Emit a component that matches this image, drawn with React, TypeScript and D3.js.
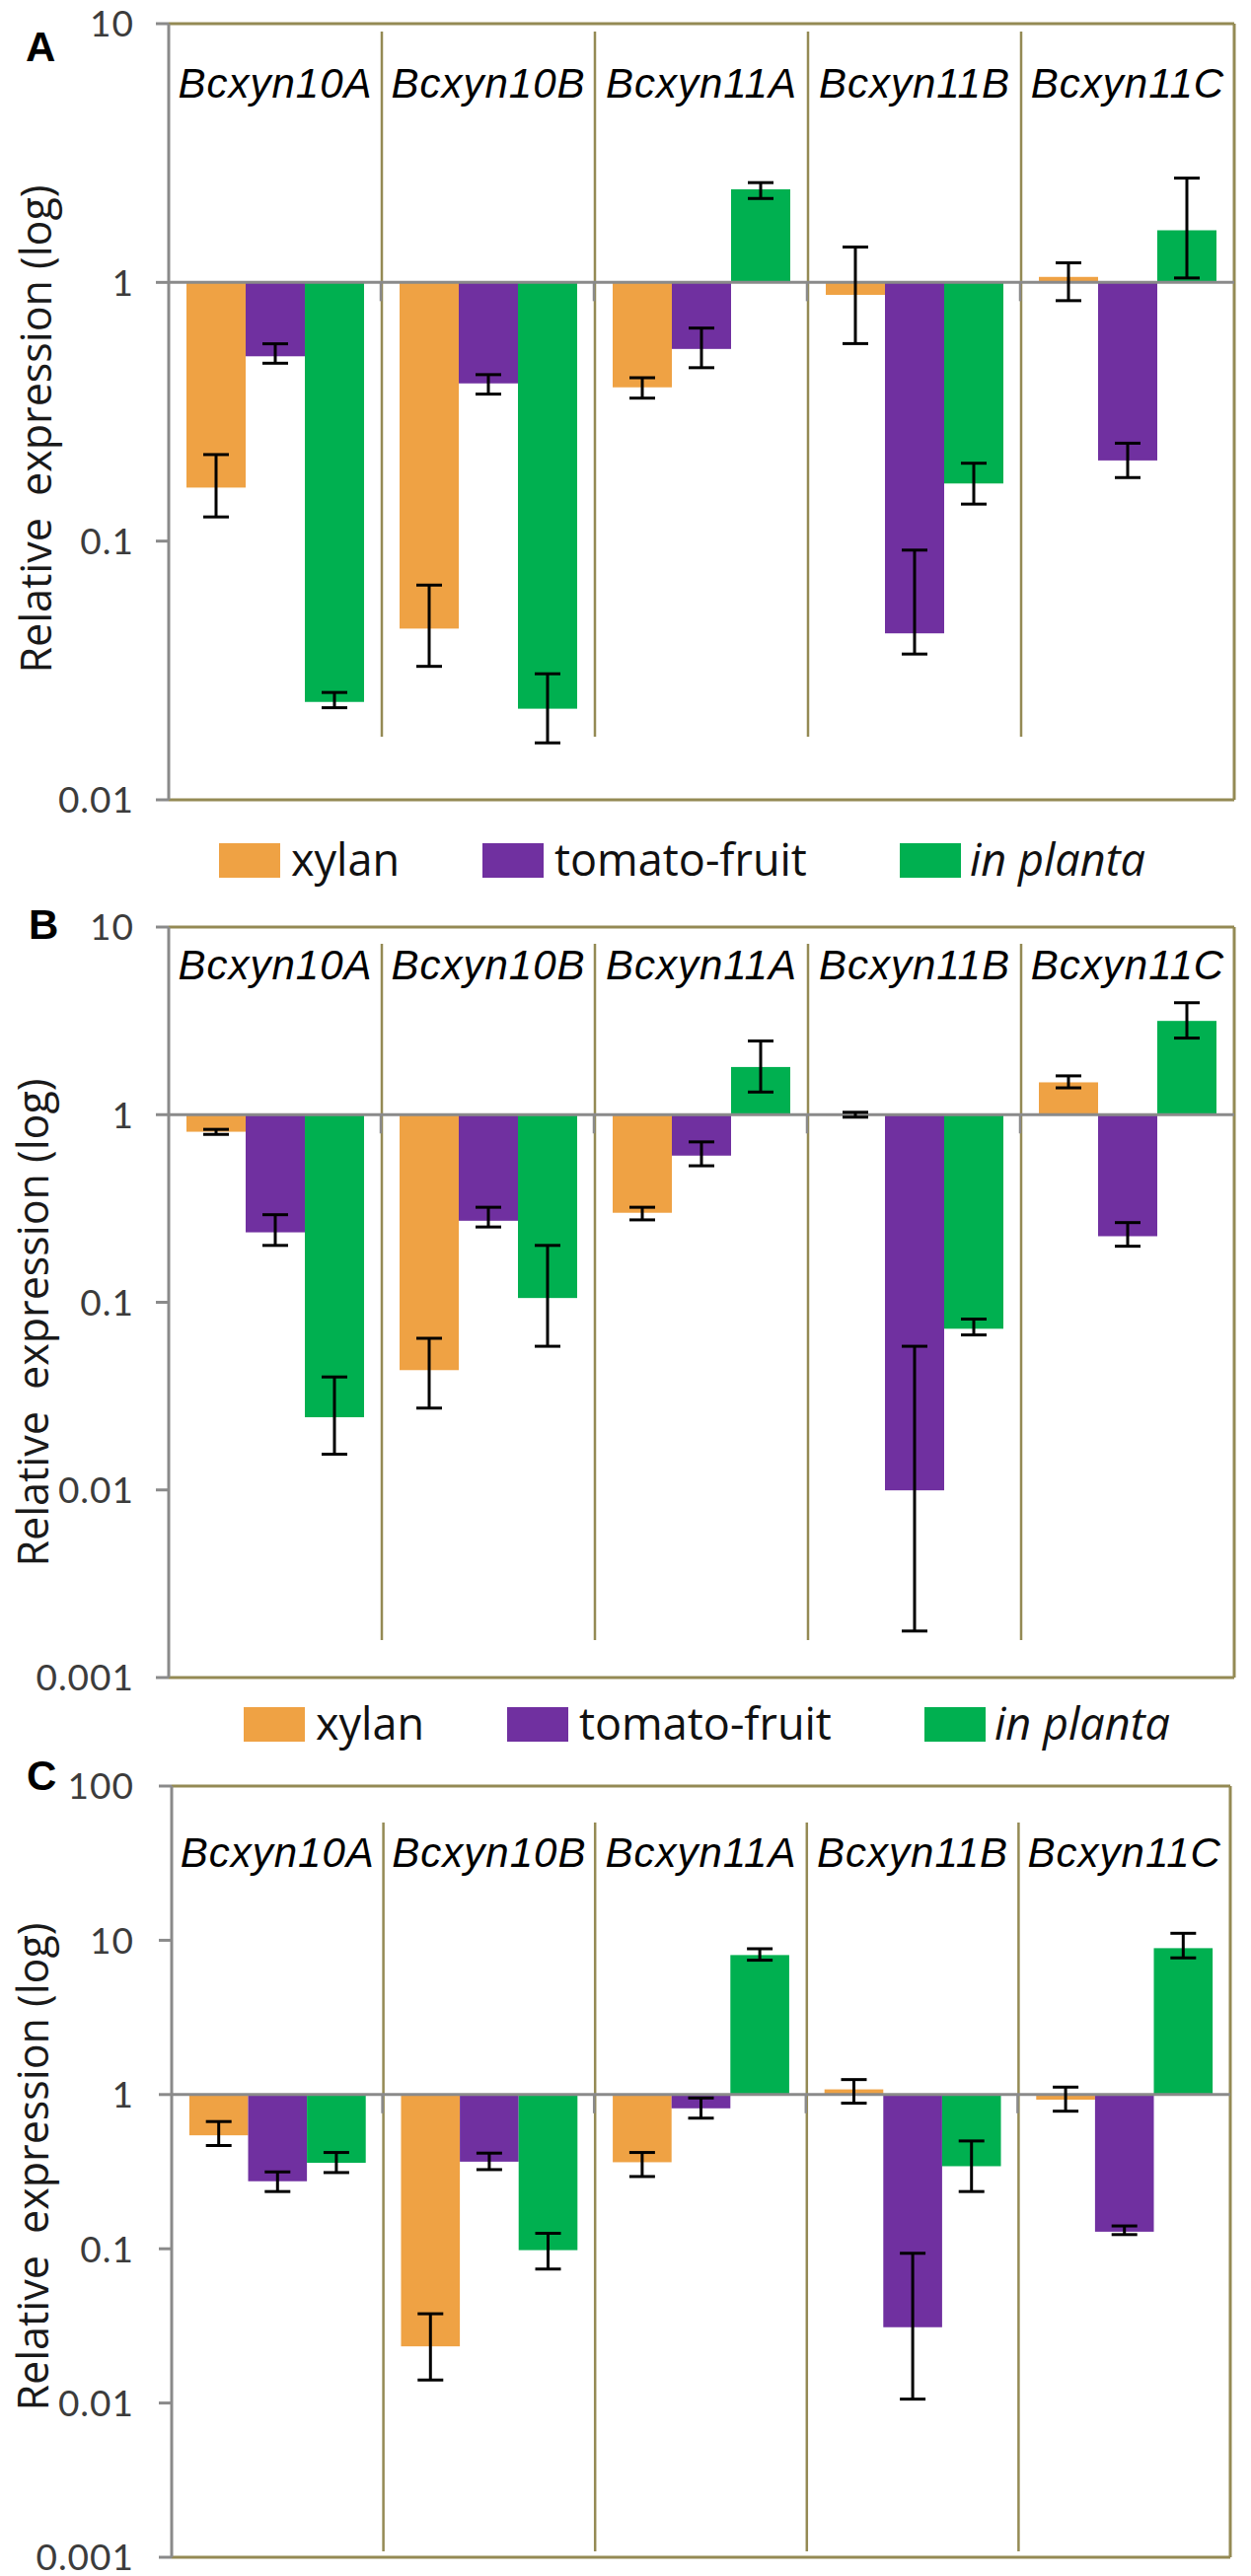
import React from "react";
import * as d3 from "d3";

const categories = ["Bcxyn10A", "Bcxyn10B", "Bcxyn11A", "Bcxyn11B", "Bcxyn11C"];
const seriesNames = ["xylan", "tomato-fruit", "in planta"];
const seriesColors = ["#EFA244", "#7030A0", "#00B050"];

// Panel A
const xylanA = [0.161, 0.0459, 0.393, 0.895, 1.05];
const xylanAlo = [0.124, 0.0328, 0.357, 0.58, 0.85];
const xylanAhi = [0.216, 0.0676, 0.428, 1.37, 1.19];
const tomatoA = [0.518, 0.407, 0.553, 0.044, 0.205];
const tomatoAlo = [0.487, 0.37, 0.468, 0.0366, 0.176];
const tomatoAhi = [0.579, 0.44, 0.666, 0.0923, 0.239];
const plantaA = [0.0239, 0.0225, 2.29, 0.167, 1.59];
const plantaAlo = [0.0227, 0.0166, 2.11, 0.139, 1.04];
const plantaAhi = [0.026, 0.0307, 2.43, 0.2, 2.53];

// Panel B
const xylanB = [0.811, 0.0435, 0.3, 0.99, 1.487];
const xylanBlo = [0.785, 0.0273, 0.275, 0.97, 1.39];
const xylanBhi = [0.835, 0.0643, 0.321, 1.03, 1.61];
const tomatoB = [0.236, 0.272, 0.605, 0.00995, 0.225];
const tomatoBlo = [0.201, 0.252, 0.534, 0.00177, 0.199];
const tomatoBhi = [0.293, 0.321, 0.716, 0.0583, 0.266];
const plantaB = [0.0244, 0.1054, 1.795, 0.0723, 3.16];
const plantaBlo = [0.0155, 0.0583, 1.32, 0.067, 2.56];
const plantaBhi = [0.04, 0.201, 2.47, 0.0814, 3.95];

// Panel C
const xylanC = [0.544, 0.0233, 0.364, 1.08, 0.926];
const xylanClo = [0.467, 0.0141, 0.294, 0.879, 0.78];
const xylanChi = [0.668, 0.0379, 0.421, 1.25, 1.117];
const tomatoC = [0.274, 0.367, 0.814, 0.031, 0.129];
const tomatoClo = [0.235, 0.326, 0.703, 0.0106, 0.1236];
const tomatoChi = [0.315, 0.417, 0.95, 0.0935, 0.1406];
const plantaC = [0.361, 0.098, 8.02, 0.343, 8.89];
const plantaClo = [0.312, 0.0739, 7.43, 0.235, 7.69];
const plantaChi = [0.421, 0.126, 8.81, 0.5, 11.1];

const ticksA = [10, 1, 0.1, 0.01];
const ticksB = [10, 1, 0.1, 0.01, 0.001];
const ticksC = [100, 10, 1, 0.1, 0.01, 0.001];
const domainA = [0.01, 10];
const domainB = [0.001, 10];
const domainC = [0.001, 100];

const yTitle = "Relative  expression (log)";

const OLIVE = "#948A54";
const GRAY = "#8A8A8A";

const panels = [
  {
    letter: "A", letterX: 26, letterY: 62,
    left: 171, right: 1251, top: 24, bottom: 811,
    domain: domainA, ticks: ticksA,
    values: [xylanA, tomatoA, plantaA],
    lo: [xylanAlo, tomatoAlo, plantaAlo],
    hi: [xylanAhi, tomatoAhi, plantaAhi],
    labelY: 99, divTop: 32, divBottom: 747,
    titleX: 52, titleY: 435,
  },
  {
    letter: "B", letterX: 29, letterY: 952,
    left: 171, right: 1251, top: 940, bottom: 1701,
    domain: domainB, ticks: ticksB,
    values: [xylanB, tomatoB, plantaB],
    lo: [xylanBlo, tomatoBlo, plantaBlo],
    hi: [xylanBhi, tomatoBhi, plantaBhi],
    labelY: 993, divTop: 957, divBottom: 1663,
    titleX: 49, titleY: 1341,
  },
  {
    letter: "C", letterX: 27, letterY: 1815,
    left: 174, right: 1247, top: 1811, bottom: 2593,
    domain: domainC, ticks: ticksC,
    values: [xylanC, tomatoC, plantaC],
    lo: [xylanClo, tomatoClo, plantaClo],
    hi: [xylanChi, tomatoChi, plantaChi],
    labelY: 1893, divTop: 1848, divBottom: 2587,
    titleX: 49, titleY: 2197,
  },
];

const legends = [
  { swatchX: [222, 489, 912], y: 855 },
  { swatchX: [247, 514, 937], y: 1731 },
];

function Panel({ cfg }: { cfg: any }) {
  const y = d3.scaleLog().domain(cfg.domain).range([cfg.bottom, cfg.top]);
  const x0 = d3.scaleBand<string>().domain(categories).range([cfg.left, cfg.right]).paddingInner(0).paddingOuter(0);
  const x1 = d3.scaleBand<string>().domain(seriesNames).range([0, x0.bandwidth()]).paddingInner(0).paddingOuter(0.3);
  const y1 = y(1);
  const bw = x1.bandwidth();
  const cap = 13;

  return (
    <g>
      <text x={cfg.letterX} y={cfg.letterY} style={{ fontFamily: "'Liberation Sans', Arial, sans-serif" }} fontWeight="bold" fontSize={42} fill="#000">
        {cfg.letter}
      </text>
      <text
        transform={`translate(${cfg.titleX},${cfg.titleY}) rotate(-90)`}
        textAnchor="middle"
        style={{ fontFamily: "'Open Sans', sans-serif", whiteSpace: "pre" }}
        fontSize={43}
        fill="#1a1a1a"
      >
        {yTitle}
      </text>
      {/* bars */}
      {seriesNames.map((s, j) =>
        categories.map((c, i) => {
          const v = cfg.values[j][i];
          const yv = y(v);
          return (
            <rect
              key={`b-${s}-${c}`}
              x={(x0(c) as number) + (x1(s) as number)}
              y={Math.min(yv, y1)}
              width={bw}
              height={Math.abs(yv - y1)}
              fill={seriesColors[j]}
            />
          );
        })
      )}
      {/* frame */}
      <line x1={cfg.left} x2={cfg.right} y1={cfg.top} y2={cfg.top} stroke={OLIVE} strokeWidth={3} />
      <line x1={cfg.left} x2={cfg.right} y1={cfg.bottom} y2={cfg.bottom} stroke={OLIVE} strokeWidth={3} />
      <line x1={cfg.right} x2={cfg.right} y1={cfg.top} y2={cfg.bottom} stroke={OLIVE} strokeWidth={3} />
      {categories.slice(1).map((c) => (
        <line key={`d-${c}`} x1={x0(c) as number} x2={x0(c) as number} y1={cfg.divTop} y2={cfg.divBottom} stroke={OLIVE} strokeWidth={2.5} />
      ))}
      {/* baseline (category axis at 1) */}
      <line x1={cfg.left} x2={cfg.right} y1={y1} y2={y1} stroke={GRAY} strokeWidth={3} />
      {categories.slice(1).map((c) => (
        <line key={`t-${c}`} x1={(x0(c) as number) - 1} x2={(x0(c) as number) - 1} y1={y1} y2={y1 + 19} stroke={GRAY} strokeWidth={2.5} />
      ))}
      {/* value axis */}
      <line x1={cfg.left} x2={cfg.left} y1={cfg.top} y2={cfg.bottom} stroke={GRAY} strokeWidth={3} />
      {cfg.ticks.map((t: number) => (
        <g key={`yt-${t}`}>
          <line x1={cfg.left - 13} x2={cfg.left} y1={y(t)} y2={y(t)} stroke={GRAY} strokeWidth={3} />
          <text
            x={136}
            y={y(t)}
            dy="0.36em"
            textAnchor="end"
            style={{ fontFamily: "Lato, 'Open Sans', sans-serif", letterSpacing: "1px" }}
            fontSize={37}
            fill="#3c3c3c"
          >
            {String(t)}
          </text>
        </g>
      ))}
      {/* category labels */}
      {categories.map((c) => (
        <text
          key={`cl-${c}`}
          x={(x0(c) as number) + x0.bandwidth() / 2}
          y={cfg.labelY}
          textAnchor="middle"
          style={{ fontFamily: "'Liberation Sans', Arial, sans-serif", letterSpacing: "1px" }}
          fontStyle="italic"
          fontSize={42}
          fill="#000"
        >
          {c}
        </text>
      ))}
      {/* error bars */}
      {seriesNames.map((s, j) =>
        categories.map((c, i) => {
          const cx = (x0(c) as number) + (x1(s) as number) + bw / 2;
          const ylo = y(cfg.lo[j][i]);
          const yhi = y(cfg.hi[j][i]);
          return (
            <g key={`e-${s}-${c}`} stroke="#000" strokeWidth={3}>
              <line x1={cx} x2={cx} y1={ylo} y2={yhi} />
              <line x1={cx - cap} x2={cx + cap} y1={ylo} y2={ylo} />
              <line x1={cx - cap} x2={cx + cap} y1={yhi} y2={yhi} />
            </g>
          );
        })
      )}
    </g>
  );
}

function Legend({ cfg }: { cfg: any }) {
  return (
    <g>
      {seriesNames.map((s, j) => (
        <g key={`lg-${s}`}>
          <rect x={cfg.swatchX[j]} y={cfg.y} width={62} height={35} fill={seriesColors[j]} />
          <text
            x={cfg.swatchX[j] + 62 + (j === 2 ? 9 : 11)}
            y={cfg.y + 33}
            style={{ fontFamily: "'Open Sans', sans-serif" }}
            fontSize={45}
            fontStyle={j === 2 ? "italic" : "normal"}
            fill="#111"
          >
            {s}
          </text>
        </g>
      ))}
    </g>
  );
}

export default function App() {
  return (
    <svg
      width={1268}
      height={2612}
      viewBox="0 0 1268 2612"
      style={{ position: "absolute", left: 0, top: 0, background: "#fff" }}
    >
      <rect x={0} y={0} width={1268} height={2612} fill="#fff" />
      {panels.map((p) => (
        <Panel key={p.letter} cfg={p} />
      ))}
      {legends.map((l, i) => (
        <Legend key={i} cfg={l} />
      ))}
    </svg>
  );
}
